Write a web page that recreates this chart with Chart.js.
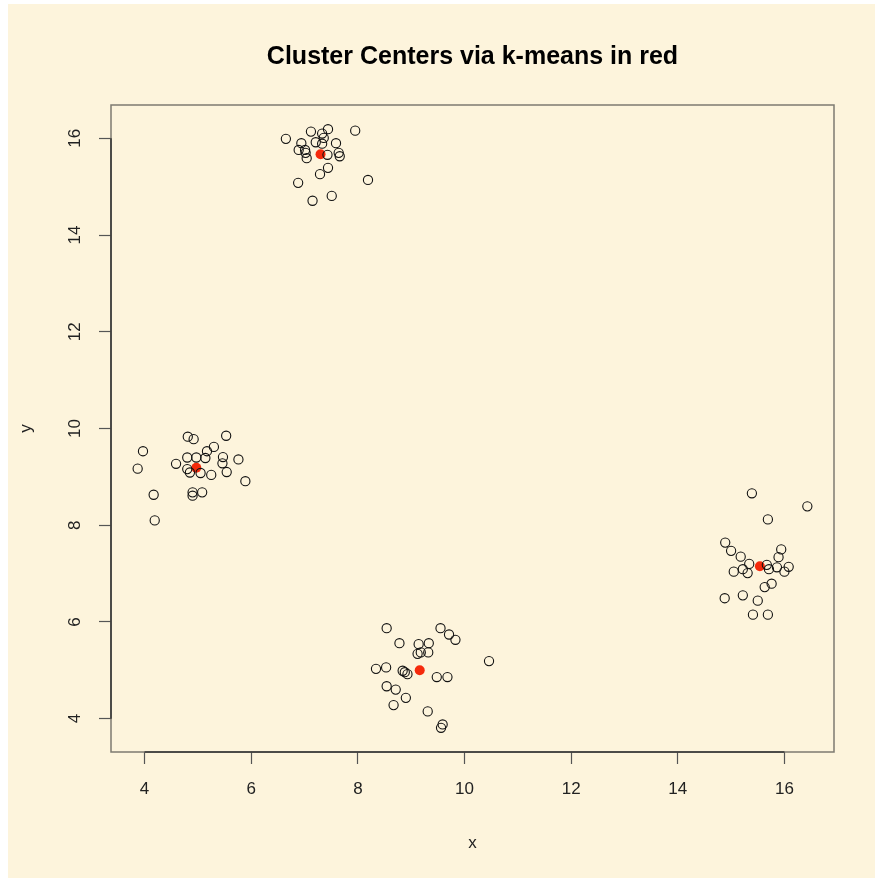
<!DOCTYPE html>
<html>
<head>
<meta charset="utf-8">
<script src="https://cdn.jsdelivr.net/npm/chart.js@4.4.1/dist/chart.umd.min.js"></script>
<style>
  html, body { margin: 0; padding: 0; background: #ffffff; }
  #wrap { position: absolute; left: 8px; top: 4px; width: 867px; height: 874px; background: #fdf4dc; }
  canvas { display: block; }
</style>
</head>
<body>
<div id="wrap"><canvas id="km" width="867" height="874"></canvas></div>
<script>
// observations, read cluster by cluster
const ptsX = [
  6.65, 7.12, 7.33, 7.44, 7.95, 6.94, 6.89, 7.01, 7.02, 7.04, 7.21, 7.33, 7.36, 7.59, 7.43, 7.64, 7.66, 7.44, 7.29, 6.88, 8.19, 7.51, 7.15,
  3.97, 3.87, 4.81, 4.92, 5.53, 5.30, 5.17, 4.59, 4.80, 4.97, 5.14, 5.47, 5.46, 5.76, 4.80, 4.85, 5.05, 5.25, 5.54, 5.89, 4.17, 4.90, 4.90, 5.08, 4.19,
  8.54, 9.55, 9.71, 9.83, 8.78, 9.14, 9.33, 9.12, 9.18, 9.32, 10.46, 8.34, 8.53, 8.84, 8.88, 8.93, 9.48, 9.68, 8.54, 8.71, 8.90, 8.67, 9.31, 9.59, 9.56,
  15.39, 16.43, 15.69, 14.89, 15.00, 15.18, 15.94, 15.89, 15.34, 15.22, 15.05, 15.31, 15.67, 15.71, 15.86, 16.08, 16.00, 15.76, 15.63, 14.88, 15.22, 15.50, 15.41, 15.69
];
const ptsY = [
  15.99, 16.14, 16.10, 16.19, 16.16, 15.90, 15.76, 15.76, 15.70, 15.59, 15.92, 15.89, 16.01, 15.90, 15.66, 15.70, 15.63, 15.39, 15.26, 15.08, 15.14, 14.81, 14.71,
  9.53, 9.17, 9.83, 9.78, 9.85, 9.62, 9.53, 9.27, 9.40, 9.40, 9.39, 9.41, 9.28, 9.36, 9.16, 9.09, 9.08, 9.04, 9.10, 8.91, 8.63, 8.68, 8.61, 8.68, 8.10,
  5.87, 5.87, 5.74, 5.63, 5.56, 5.54, 5.56, 5.34, 5.37, 5.37, 5.19, 5.03, 5.06, 4.99, 4.96, 4.92, 4.86, 4.86, 4.67, 4.60, 4.43, 4.28, 4.15, 3.88, 3.81,
  8.66, 8.39, 8.12, 7.64, 7.47, 7.35, 7.50, 7.34, 7.20, 7.09, 7.04, 7.01, 7.18, 7.09, 7.13, 7.14, 7.04, 6.79, 6.72, 6.49, 6.55, 6.44, 6.15, 6.15
];
// k-means centers
const ctrX = [7.30, 4.97, 9.16, 15.54];
const ctrY = [15.67, 9.19, 5.00, 7.15];

const xTicks = [4, 6, 8, 10, 12, 14, 16];
const yTicks = [4, 6, 8, 10, 12, 14, 16];
const xMin = 3.37, xMax = 16.93, yMin = 3.31, yMax = 16.69;

const toXY = (xs, ys) => xs.map((v, i) => ({ x: v, y: ys[i] }));

const ink = '#222222';
const labelFont = { family: 'Liberation Sans, Arial, sans-serif', size: 17 };

// R-style frame: grey box plus axis line spanning first to last tick
const rFrame = {
  id: 'rFrame',
  afterDatasetsDraw(chart) {
    const { ctx, chartArea: a, scales } = chart;
    ctx.save();
    ctx.strokeStyle = '#7d7a70';
    ctx.lineWidth = 1.5;
    ctx.strokeRect(a.left, a.top, a.right - a.left, a.bottom - a.top);
    ctx.strokeStyle = '#333333';
    ctx.beginPath();
    ctx.moveTo(scales.x.getPixelForValue(xTicks[0]), a.bottom);
    ctx.lineTo(scales.x.getPixelForValue(xTicks[xTicks.length - 1]), a.bottom);
    ctx.moveTo(a.left, scales.y.getPixelForValue(yTicks[0]));
    ctx.lineTo(a.left, scales.y.getPixelForValue(yTicks[yTicks.length - 1]));
    ctx.stroke();
    ctx.restore();
  }
};

new Chart(document.getElementById('km'), {
  type: 'scatter',
  data: {
    datasets: [
      {
        data: toXY(ptsX, ptsY),
        pointRadius: 4.6,
        pointBorderWidth: 1.1,
        pointBorderColor: '#111111',
        pointBackgroundColor: 'rgba(0,0,0,0)'
      },
      {
        data: toXY(ctrX, ctrY),
        pointRadius: 5,
        pointBorderWidth: 0,
        pointBorderColor: '#f52a0c',
        pointBackgroundColor: '#f52a0c'
      }
    ]
  },
  options: {
    responsive: false,
    animation: false,
    layout: { padding: { left: 0, right: 41, top: 0, bottom: 0 } },
    plugins: {
      legend: { display: false },
      tooltip: { enabled: false },
      title: {
        display: true,
        fullSize: false,
        text: 'Cluster Centers via k-means in red',
        color: '#000000',
        font: { family: 'Liberation Sans, Arial, sans-serif', size: 25, weight: 'bold', lineHeight: 1.2 },
        padding: { top: 38, bottom: 33 }
      }
    },
    scales: {
      x: {
        type: 'linear',
        min: xMin,
        max: xMax,
        afterBuildTicks: (s) => { s.ticks = xTicks.map(v => ({ value: v })); },
        afterFit: (s) => { s.height = 126; },
        grid: { drawOnChartArea: false, tickLength: 12, tickColor: '#555555', tickWidth: 1.2 },
        border: { display: false },
        ticks: { color: ink, font: labelFont, padding: 15, maxRotation: 0 },
        title: { display: true, text: 'x', color: ink, font: labelFont, padding: { top: 0, bottom: 24 } }
      },
      y: {
        type: 'linear',
        min: yMin,
        max: yMax,
        afterBuildTicks: (s) => { s.ticks = yTicks.map(v => ({ value: v })); },
        afterFit: (s) => { s.width = 103; },
        grid: { drawOnChartArea: false, tickLength: 12, tickColor: '#555555', tickWidth: 1.2 },
        border: { display: false },
        ticks: { color: ink, font: labelFont, padding: 14, minRotation: 90, maxRotation: 90, crossAlign: 'center' },
        title: { display: true, text: 'y', color: ink, font: labelFont, padding: { top: 8, bottom: 9 } }
      }
    }
  },
  plugins: [rFrame]
});
</script>
</body>
</html>
